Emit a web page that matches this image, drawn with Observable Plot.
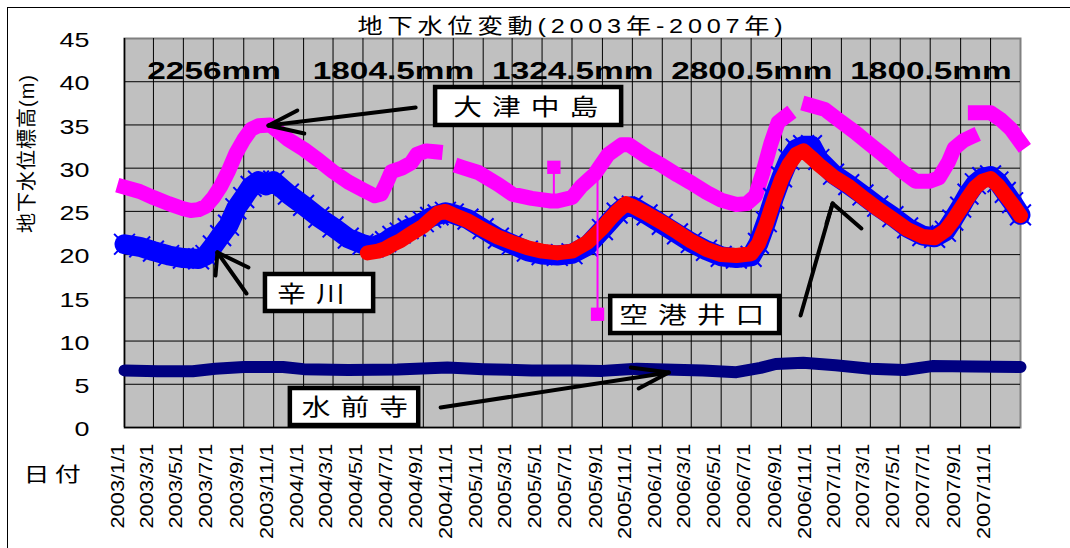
<!DOCTYPE html>
<html>
<head>
<meta charset="utf-8">
<script src="https://cdn.jsdelivr.net/npm/d3@7"></script>
<script src="https://cdn.jsdelivr.net/npm/@observablehq/plot@0.6"></script>
<style>
  body { margin: 0; background: #fff; }
  #wrap { position: relative; width: 1070px; height: 548px; overflow: hidden; }
  #edge { position: absolute; left: 7px; top: 7px; right: -4px; bottom: -4px;
          border-left: 1.5px solid #000; border-top: 1.5px solid #000; pointer-events: none; }
</style>
</head>
<body>
<div id="wrap"><div id="edge"></div></div>
<script>
// ---- axis ticks ----
const yTicks = [0, 5, 10, 15, 20, 25, 30, 35, 40, 45];
const dateLabels = [
  "2003/1/1", "2003/3/1", "2003/5/1", "2003/7/1", "2003/9/1", "2003/11/1",
  "2004/1/1", "2004/3/1", "2004/5/1", "2004/7/1", "2004/9/1", "2004/11/1",
  "2005/1/1", "2005/3/1", "2005/5/1", "2005/7/1", "2005/9/1", "2005/11/1",
  "2006/1/1", "2006/3/1", "2006/5/1", "2006/7/1", "2006/9/1", "2006/11/1",
  "2007/1/1", "2007/3/1", "2007/5/1", "2007/7/1", "2007/9/1", "2007/11/1"
];

// ---- annual rainfall ----
const rainYears = [2003, 2004, 2005, 2006, 2007];
const rainTotals = ["2256mm", "1804.5mm", "1324.5mm", "2800.5mm", "1800.5mm"];

// ---- groundwater level (m) per well ----
// 大津中島 (null = no record)
const otsu = [
  ["2003-01-01", 27.8], ["2003-02-01", 27.3], ["2003-03-01", 26.6], ["2003-04-01", 25.9],
  ["2003-05-01", 25.3], ["2003-05-16", 25.1], ["2003-06-01", 25.2], ["2003-06-16", 25.6],
  ["2003-07-01", 26.6], ["2003-07-16", 27.9], ["2003-08-01", 29.7], ["2003-08-16", 31.7],
  ["2003-09-01", 33.3], ["2003-09-16", 34.5], ["2003-10-01", 34.9], ["2003-10-25", 35.0],
  ["2003-12-01", 33.3], ["2004-01-01", 32.2], ["2004-02-01", 30.9], ["2004-03-01", 29.6],
  ["2004-04-01", 28.4], ["2004-05-01", 27.5], ["2004-05-25", 26.8], ["2004-06-07", 27.0],
  ["2004-06-19", 28.4], ["2004-06-28", 29.6], ["2004-07-19", 30.0], ["2004-08-07", 30.6],
  ["2004-08-19", 31.6], ["2004-09-07", 32.0], ["2004-09-25", 31.9],
  ["2004-10-15", null],
  ["2004-11-19", 30.1], ["2004-12-22", 29.5], ["2005-02-01", 28.1], ["2005-03-01", 27.0],
  ["2005-04-10", 26.5], ["2005-05-19", 26.2], ["2005-06-01", 26.2], ["2005-07-01", 26.6],
  ["2005-07-20", 27.9], ["2005-08-16", 29.3], ["2005-09-13", 31.6], ["2005-10-10", 32.7],
  ["2005-10-25", 32.7], ["2005-12-01", 31.3], ["2006-01-01", 30.3], ["2006-02-01", 29.2],
  ["2006-03-01", 28.3], ["2006-04-01", 27.2], ["2006-05-01", 26.3], ["2006-06-01", 25.8],
  ["2006-06-22", 25.9], ["2006-07-10", 26.8], ["2006-07-25", 29.5], ["2006-08-10", 32.8],
  ["2006-08-25", 35.3], ["2006-09-10", 36.0],
  ["2006-10-01", null],
  ["2006-10-28", 37.3], ["2006-11-28", 36.8], ["2006-12-28", 35.5], ["2007-01-28", 34.2],
  ["2007-03-01", 32.7], ["2007-04-01", 31.3], ["2007-05-01", 29.8], ["2007-06-01", 28.5],
  ["2007-07-01", 28.5], ["2007-07-19", 28.9], ["2007-08-07", 30.7], ["2007-08-19", 32.3],
  ["2007-09-07", 33.2], ["2007-09-22", 33.6],
  ["2007-09-26", null],
  ["2007-10-01", 36.4], ["2007-11-01", 36.4], ["2007-11-22", 35.6], ["2007-12-13", 34.5],
  ["2008-01-01", 33.0]
];
// 大津中島 single-day readings off the trend
const otsuSpikeDates = ["2005-05-25", "2005-08-22"];
const otsuSpikeBase = [26.2, 29.5];
const otsuSpikeValues = [30.1, 13.1];

// 辛川
const shinkawa = [
  ["2003-01-01", 21.2], ["2003-02-01", 20.9], ["2003-03-01", 20.4], ["2003-04-01", 19.9],
  ["2003-05-01", 19.6], ["2003-06-01", 19.5], ["2003-06-16", 19.9], ["2003-07-01", 21.0],
  ["2003-07-16", 22.2], ["2003-08-01", 23.4], ["2003-08-16", 25.3], ["2003-09-01", 26.6],
  ["2003-09-16", 27.9], ["2003-10-01", 28.5], ["2003-10-16", 28.0], ["2003-11-01", 28.5],
  ["2003-12-01", 27.0], ["2004-01-01", 25.7], ["2004-02-01", 24.3], ["2004-03-01", 23.2],
  ["2004-04-01", 21.9], ["2004-05-01", 21.2], ["2004-05-22", 20.9], ["2004-06-16", 21.5],
  ["2004-07-01", 22.1], ["2004-07-16", 22.5], ["2004-08-01", 23.0], ["2004-08-16", 23.3],
  ["2004-09-01", 23.8], ["2004-09-16", 24.3], ["2004-10-01", 24.6], ["2004-10-16", 24.9],
  ["2004-11-01", 24.7], ["2004-12-01", 24.1], ["2005-01-01", 23.0], ["2005-02-01", 21.9],
  ["2005-03-01", 21.2], ["2005-04-01", 20.4], ["2005-05-01", 20.0], ["2005-06-01", 19.9],
  ["2005-07-01", 20.1], ["2005-08-01", 21.0], ["2005-09-01", 22.9], ["2005-10-01", 24.8],
  ["2005-10-16", 25.5], ["2005-11-01", 25.6], ["2005-12-01", 24.6], ["2006-01-01", 23.5],
  ["2006-02-01", 22.4], ["2006-03-01", 21.4], ["2006-04-01", 20.5], ["2006-05-01", 19.8],
  ["2006-06-01", 19.6], ["2006-07-01", 19.8], ["2006-07-16", 21.3], ["2006-08-01", 23.8],
  ["2006-08-16", 26.5], ["2006-09-01", 29.0], ["2006-09-16", 31.0], ["2006-10-01", 32.2],
  ["2006-10-16", 32.6], ["2006-11-01", 32.6], ["2006-11-16", 31.0], ["2006-12-16", 29.3],
  ["2007-01-16", 28.1], ["2007-02-14", 26.9], ["2007-03-16", 25.6], ["2007-04-16", 24.4],
  ["2007-05-16", 23.1], ["2007-06-16", 22.2], ["2007-07-10", 22.0], ["2007-08-01", 22.7],
  ["2007-08-16", 24.0], ["2007-09-01", 25.5], ["2007-09-16", 27.0], ["2007-10-01", 28.2],
  ["2007-10-16", 28.9], ["2007-11-01", 29.1], ["2007-11-16", 28.4], ["2007-12-01", 27.2],
  ["2007-12-16", 26.0], ["2008-01-01", 24.6]
];

// 空港井口
const kuko = [
  ["2004-05-10", 20.2], ["2004-06-01", 20.4], ["2004-06-16", 20.7], ["2004-07-01", 21.2],
  ["2004-07-16", 21.6], ["2004-08-01", 22.2], ["2004-08-16", 22.75], ["2004-09-01", 23.3],
  ["2004-09-16", 24.1], ["2004-10-01", 24.8], ["2004-10-16", 25.0], ["2004-11-01", 24.6],
  ["2004-12-01", 23.9], ["2005-01-01", 22.9], ["2005-02-01", 22.0], ["2005-03-01", 21.4],
  ["2005-04-01", 20.8], ["2005-05-01", 20.4], ["2005-06-01", 20.2], ["2005-07-01", 20.4],
  ["2005-08-01", 21.4], ["2005-09-01", 23.1], ["2005-09-16", 24.1], ["2005-10-01", 25.0],
  ["2005-10-19", 25.9], ["2005-11-01", 25.6], ["2005-12-01", 24.7], ["2006-01-01", 23.7],
  ["2006-02-01", 22.6], ["2006-03-01", 21.55], ["2006-04-01", 20.6], ["2006-05-01", 20.0],
  ["2006-06-01", 19.9], ["2006-07-01", 20.1], ["2006-07-16", 21.25], ["2006-08-01", 23.6],
  ["2006-08-16", 26.2], ["2006-09-01", 28.7], ["2006-09-16", 30.4], ["2006-10-01", 31.6],
  ["2006-10-16", 32.0], ["2006-11-01", 31.2], ["2006-11-16", 30.4], ["2006-12-16", 29.0],
  ["2007-01-16", 27.9], ["2007-02-14", 26.6], ["2007-03-16", 25.3], ["2007-04-16", 24.1],
  ["2007-05-16", 22.9], ["2007-06-16", 22.1], ["2007-07-10", 21.95], ["2007-08-01", 22.8],
  ["2007-08-16", 23.9], ["2007-09-01", 25.3], ["2007-09-16", 26.6], ["2007-10-01", 27.8],
  ["2007-10-16", 28.5], ["2007-11-01", 28.8], ["2007-11-16", 28.0], ["2007-12-01", 26.9],
  ["2007-12-16", 25.8], ["2008-01-01", 24.5]
];

// 水前寺
const suizenji = [
  ["2003-01-01", 6.6], ["2003-03-10", 6.5], ["2003-05-20", 6.5], ["2003-07-05", 6.8],
  ["2003-09-01", 7.0], ["2003-11-20", 7.0], ["2004-01-01", 6.75], ["2004-04-01", 6.65],
  ["2004-07-10", 6.7], ["2004-10-20", 6.95], ["2005-01-01", 6.75], ["2005-04-10", 6.6],
  ["2005-07-05", 6.6], ["2005-09-01", 6.55], ["2005-11-10", 6.8], ["2006-03-25", 6.6],
  ["2006-06-01", 6.4], ["2006-07-20", 6.9], ["2006-08-20", 7.35], ["2006-10-15", 7.5],
  ["2006-12-20", 7.2], ["2007-03-01", 6.8], ["2007-05-10", 6.65], ["2007-07-05", 7.1],
  ["2007-09-25", 7.05], ["2008-01-01", 7.0]
];

// ---- callouts, placed in data coordinates (decimal year, level) ----
const callouts = [
  {name: "大津中島", box: [2004.735, 2005.773, 34.94, 39.33], at: [2005.238, 37.0],
   from: [2004.624, 37.02], tip: [2003.804, 34.94], arms: [[2003.965, 36.67], [2004.004, 34.01]]},
  {name: "辛川", box: [2003.787, 2004.390, 13.42, 17.70], at: [2004.041, 15.4],
   from: [2003.681, 15.50], tip: [2003.519, 20.25], arms: [[2003.508, 17.58], [2003.692, 18.51]]},
  {name: "水前寺", box: [2003.926, 2004.641, 0.23, 4.51], at: [2004.286, 2.26],
   from: [2004.763, 2.31], tip: [2006.036, 6.36], arms: [[2005.824, 6.94], [2005.868, 4.51]]},
  {name: "空港井口", box: [2005.712, 2006.655, 10.87, 15.16], at: [2006.164, 12.96],
   from: [2006.772, 12.96], tip: [2006.951, 25.91], arms: [[2006.917, 23.60], [2007.112, 23.02]]}
];

// ---- helpers ----
const parseDay = s => new Date(s + "T00:00:00Z");
const toPoints = rows => rows.map(([d, v]) => ({date: parseDay(d), value: v}));
const fromLabel = s => { const [y, m, d] = s.split("/").map(Number); return new Date(Date.UTC(y, m - 1, d)); };
const decYear = t => {
  const y = Math.floor(t), a = Date.UTC(y, 0, 1), b = Date.UTC(y + 1, 0, 1);
  return new Date(a + (t - y) * (b - a));
};

const tickDates = dateLabels.map(fromLabel);
const rain = rainYears.map((year, i) => ({year, total: rainTotals[i]}));
const otsuPts = toPoints(otsu);
const shinkawaPts = toPoints(shinkawa);
const kukoPts = toPoints(kuko);
const suizenjiPts = toPoints(suizenji);
const spikes = otsuSpikeDates.map((d, i) => ({date: parseDay(d), base: otsuSpikeBase[i], value: otsuSpikeValues[i]}));

const arrowSegs = callouts.flatMap(c => [
  {a: c.from, b: c.tip}, {a: c.tip, b: c.arms[0]}, {a: c.tip, b: c.arms[1]}
]);

const MAGENTA = "#FF00FF", BLUE = "#0000FF", RED = "#FF0000", NAVY = "#000080";
const FONT = "'Liberation Sans', Arial, 'Noto Sans CJK JP', sans-serif";

// lettering per text group (keyed by aria-description): extra spacing and horizontal stretch
const lettering = {
  "callout-text": {ls: 8, stretch: 1.25},
  "rainfall": {ls: 0, stretch: 1.45},
  "y-tick": {ls: 0, stretch: 1.28},
  "x-tick": {ls: 0, stretch: 1.15},
  "y-title": {ls: 1, stretch: 1},
  "x-title": {ls: 4, stretch: 1.3},
  "title": {ls: 4, stretch: 1.2}
};

const chart = Plot.plot({
  width: 1070,
  height: 548,
  marginLeft: 124,
  marginRight: 50,
  marginTop: 38,
  marginBottom: 121,
  style: {fontFamily: FONT, background: "transparent", overflow: "visible"},
  x: {type: "utc", domain: [new Date(Date.UTC(2003, 0, 1)), new Date(Date.UTC(2008, 0, 1))], axis: null},
  y: {domain: [0, 45], axis: null},
  marks: [
    // plot area
    Plot.frame({fill: "#C0C0C0", stroke: "#808080", strokeWidth: 2}),
    Plot.ruleY(yTicks.filter(v => v > 0 && v < 45), {stroke: "#000", strokeWidth: 1}),
    Plot.ruleX(tickDates.slice(1), {stroke: "#000", strokeWidth: 1}),
    Plot.ruleX([tickDates[0]], {stroke: "#000", strokeWidth: 1.5}),
    Plot.ruleY([0], {stroke: "#000", strokeWidth: 1.5}),

    // series
    Plot.line(otsuPts, {x: "date", y: "value", stroke: MAGENTA, strokeWidth: 15,
      strokeLinecap: "square", strokeLinejoin: "round"}),
    Plot.line(shinkawaPts, {x: "date", y: "value", stroke: BLUE, strokeWidth: 20,
      strokeLinecap: "round", strokeLinejoin: "round"}),
    Plot.dot(shinkawaPts, {x: "date", y: "value", symbol: "times", r: 9.5, stroke: BLUE, strokeWidth: 2}),
    Plot.line(kukoPts, {x: "date", y: "value", stroke: RED, strokeWidth: 15,
      strokeLinecap: "round", strokeLinejoin: "round"}),
    Plot.line(suizenjiPts, {x: "date", y: "value", stroke: NAVY, strokeWidth: 12,
      strokeLinecap: "round", strokeLinejoin: "round"}),
    Plot.ruleX(spikes, {x: "date", y1: "base", y2: "value", stroke: MAGENTA, strokeWidth: 2}),
    Plot.dot(spikes, {x: "date", y: "value", symbol: "square", r: 7.5, fill: MAGENTA, stroke: null}),

    // callouts
    Plot.link(arrowSegs, {x1: d => decYear(d.a[0]), y1: d => d.a[1], x2: d => decYear(d.b[0]), y2: d => d.b[1],
      stroke: "#000", strokeWidth: 4, strokeLinecap: "round"}),
    Plot.rect(callouts, {x1: d => decYear(d.box[0]), x2: d => decYear(d.box[1]), y1: d => d.box[2], y2: d => d.box[3],
      fill: "#fff", stroke: "#000", strokeWidth: 4.5}),
    Plot.text(callouts, {x: d => decYear(d.at[0]), y: d => d.at[1], text: "name", fontSize: 23,
      lineAnchor: "middle", dx: 5, fill: "#000", ariaDescription: "callout-text"}),

    // annual rainfall
    Plot.text(rain, {x: d => decYear(d.year + 0.5), text: "total", frameAnchor: "top", lineAnchor: "bottom",
      dy: 40, fontSize: 23, fontWeight: "bold", fill: "#000", ariaDescription: "rainfall"}),

    // axis labels
    Plot.text(yTicks, {y: d => d, text: d => String(d), frameAnchor: "left", textAnchor: "end",
      lineAnchor: "middle", dx: -35, dy: 2, fontSize: 21, fill: "#000", ariaDescription: "y-tick"}),
    Plot.text(tickDates, {x: d => d, text: (d, i) => dateLabels[i], frameAnchor: "bottom", rotate: -90,
      textAnchor: "end", lineAnchor: "middle", dx: -7, dy: 16, fontSize: 19, fill: "#000", ariaDescription: "x-tick"}),
    Plot.text(["地下水位標高(m)"], {frameAnchor: "left", rotate: -90, lineAnchor: "middle",
      dx: -97, fontSize: 20, fill: "#000", ariaDescription: "y-title"}),
    Plot.text(["日付"], {frameAnchor: "bottom-left", textAnchor: "start", lineAnchor: "middle",
      dx: -101, dy: 48, fontSize: 20, fill: "#000", ariaDescription: "x-title"}),
    Plot.text(["地下水位変動(2003年-2007年)"], {frameAnchor: "top", lineAnchor: "bottom",
      dx: 0, dy: -6, fontSize: 21, fill: "#000", ariaDescription: "title"})
  ]
});

document.getElementById("wrap").prepend(chart);

// apply lettering once the chart is in the page (text needs layout to be measured)
d3.select(chart).selectAll("g[aria-description]").each(function () {
  const spec = lettering[this.getAttribute("aria-description")];
  if (!spec) return;
  d3.select(this).selectAll("text").each(function () {
    const t = d3.select(this);
    if (spec.ls) t.style("letter-spacing", spec.ls + "px");
    if (spec.stretch !== 1) {
      const natural = this.getComputedTextLength();
      t.attr("textLength", natural * spec.stretch).attr("lengthAdjust", "spacingAndGlyphs");
    }
  });
});
</script>
</body>
</html>
